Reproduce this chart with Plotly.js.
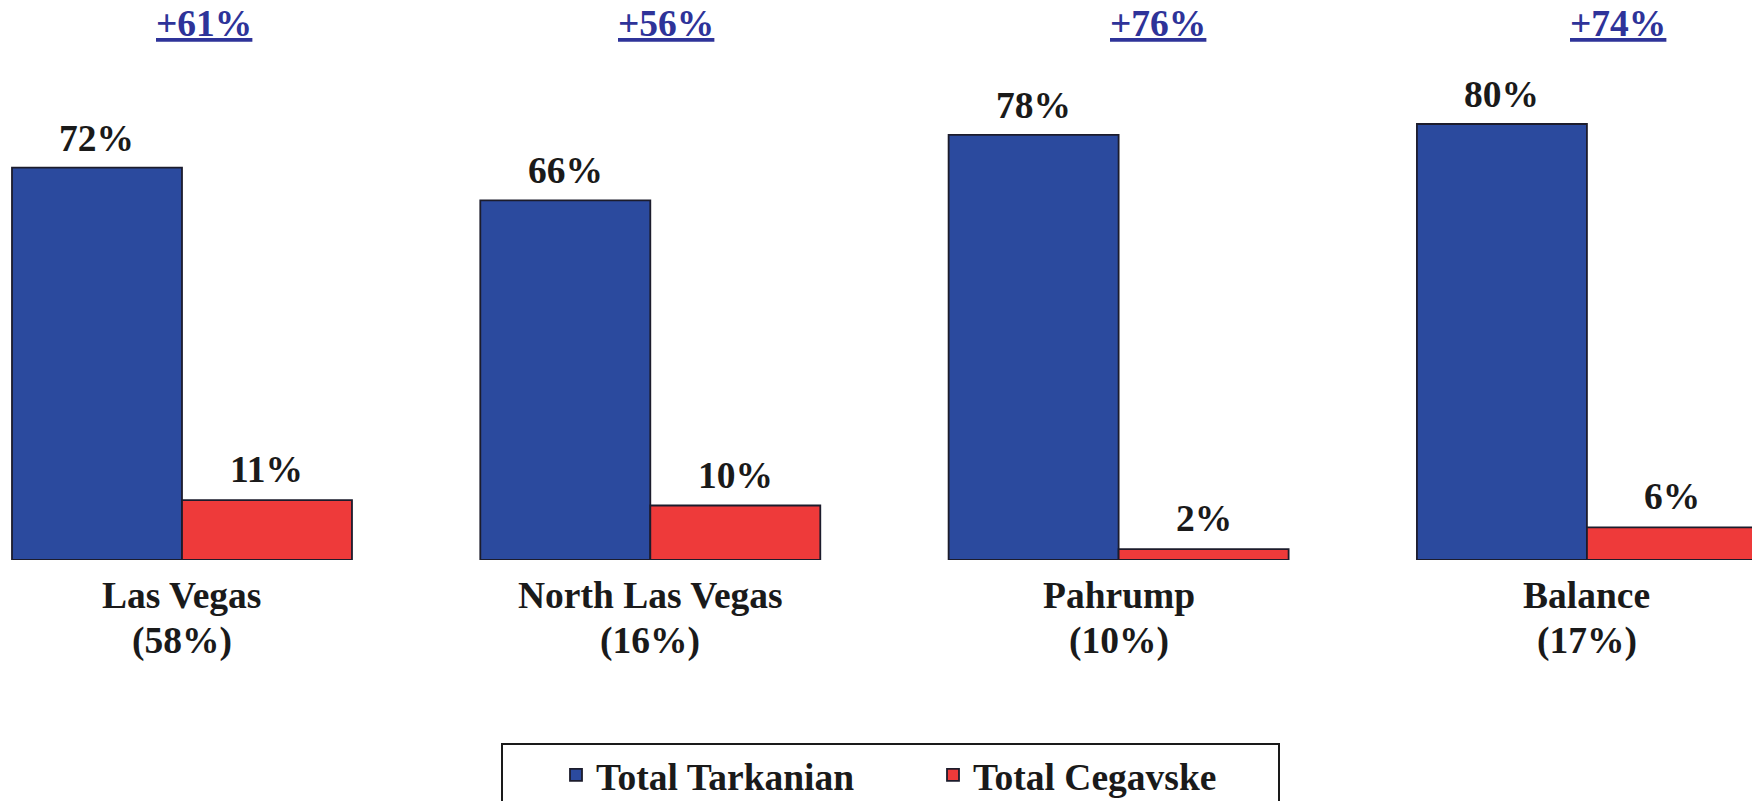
<!DOCTYPE html>
<html>
<head>
<meta charset="utf-8">
<script src="https://cdn.plot.ly/plotly-3.0.1.min.js"></script>
<style>html,body{margin:0;padding:0;background:#fff;}#chart{width:1752px;height:801px;}</style>
</head>
<body>
<div id="chart"></div>
<script>
// ---- data ----
var categories = ["Las Vegas", "North Las Vegas", "Pahrump", "Balance"];
var shares = ["(58%)", "(16%)", "(10%)", "(17%)"];
var tarkanian = [72, 66, 78, 80];
var cegavske = [11, 10, 2, 6];
var margins = ["+61%", "+56%", "+76%", "+74%"];
var seriesNames = ["Total Tarkanian", "Total Cegavske"];

// ---- style ----
var W = 1752, H = 801;
var xRange = [-0.3886, 3.3525];
var yRange = [0, 102.75];
var bargap = 0.274;
var blue = "#2b4a9e", red = "#ee3a3a", outline = "#1c1c2c";
var serif = "Liberation Serif, Times New Roman, serif";
var FS = 37.5;
var pxPerCat = W / (xRange[1] - xRange[0]);
var halfBar = pxPerCat * (1 - bargap) / 4;
var marginOffsets = [22, 16, 39, 31];

var traces = [
  {type: "bar", name: seriesNames[0], x: categories, y: tarkanian,
   marker: {color: blue, line: {color: outline, width: 1.8}}, hoverinfo: "none"},
  {type: "bar", name: seriesNames[1], x: categories, y: cegavske,
   marker: {color: red, line: {color: outline, width: 1.8}}, hoverinfo: "none"}
];

var annotations = [];
function valFont(c) { return {family: serif, size: FS, color: c || "#1a1a1a", weight: "bold"}; }
categories.forEach(function (c, i) {
  annotations.push({x: c, y: tarkanian[i], xref: "x", yref: "y", text: tarkanian[i] + "%",
    showarrow: false, yanchor: "bottom", xanchor: "center", xshift: -halfBar, yshift: 7, font: valFont()});
  annotations.push({x: c, y: cegavske[i], xref: "x", yref: "y", text: cegavske[i] + "%",
    showarrow: false, yanchor: "bottom", xanchor: "center", xshift: halfBar, yshift: 8, font: valFont()});
  annotations.push({x: c, y: 0, xref: "x", yref: "y", text: c,
    showarrow: false, yanchor: "top", xanchor: "center", yshift: -13, font: valFont()});
  annotations.push({x: c, y: 0, xref: "x", yref: "y", text: shares[i],
    showarrow: false, yanchor: "top", xanchor: "center", yshift: -58, font: valFont()});
  annotations.push({x: c, y: 1, xref: "x", yref: "paper",
    text: '<span style="text-decoration:underline">' + margins[i] + '</span>',
    showarrow: false, yanchor: "top", xanchor: "center", xshift: marginOffsets[i], yshift: -1,
    font: valFont("#2e3399")});
});

var layout = {
  width: W, height: H,
  margin: {l: 0, r: 0, t: 0, b: H - 560, autoexpand: false},
  paper_bgcolor: "#ffffff", plot_bgcolor: "#ffffff",
  barmode: "group", bargap: bargap, bargroupgap: 0,
  xaxis: {type: "category", range: xRange, showticklabels: false, showgrid: false,
          zeroline: false, showline: false, ticks: ""},
  yaxis: {range: yRange, showticklabels: false, showgrid: false, zeroline: false,
          showline: false, ticks: ""},
  showlegend: true,
  legend: {orientation: "h", x: 556 / W, xanchor: "left", y: (560 - 744) / 560, yanchor: "top",
           font: {family: serif, size: FS, color: "#1a1a1a", weight: "bold"},
           bgcolor: "rgba(0,0,0,0)", borderwidth: 0, entrywidth: 332, traceorder: "normal"},
  shapes: [{type: "rect", xref: "paper", yref: "paper", x0: 502 / W, x1: 1279 / W,
            y0: (560 - 744) / 560, y1: (560 - 840) / 560,
            line: {color: "#1a1a1a", width: 2}, fillcolor: "rgba(0,0,0,0)"}],
  annotations: annotations
};

Plotly.newPlot("chart", traces, layout, {displayModeBar: false, staticPlot: true});
</script>
</body>
</html>
